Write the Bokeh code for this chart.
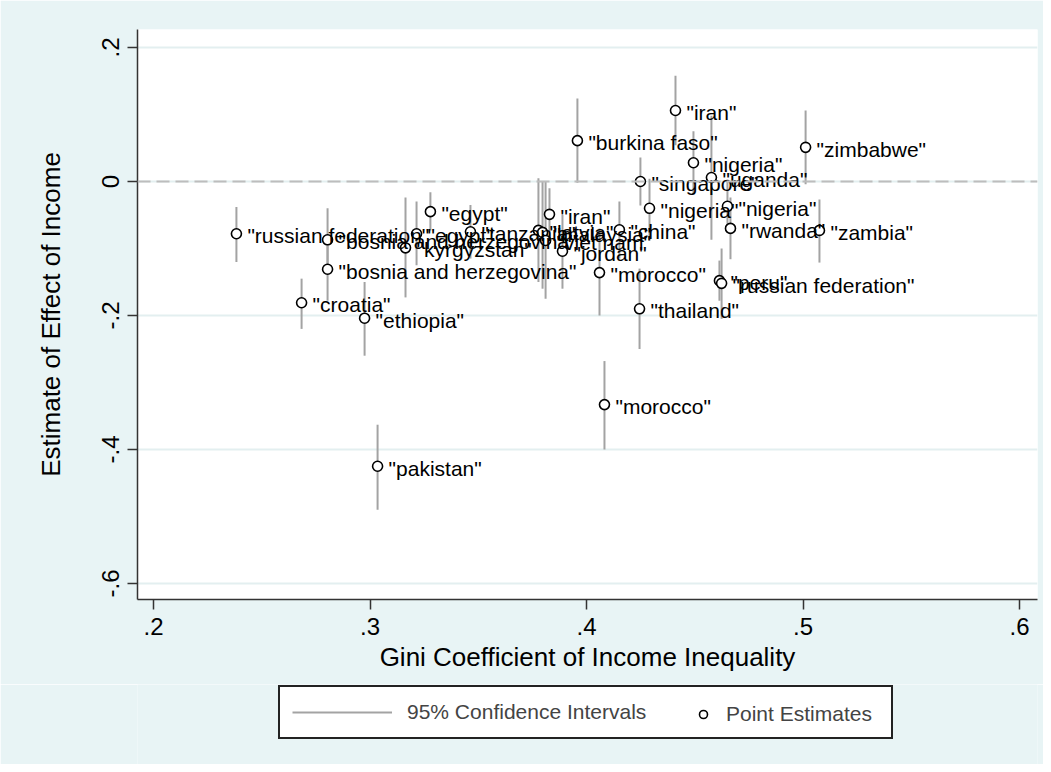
from bokeh.plotting import figure
from bokeh.layouts import column
from bokeh.models import ColumnDataSource, FixedTicker, Span, Legend, LegendItem, Range1d
from bokeh.embed import file_html
from bokeh.resources import INLINE
from bokeh.core.properties import value

# ---- data ----
countries = ["iran", "burkina faso", "zimbabwe", "nigeria", "uganda", "singapore",
             "nigeria", "nigeria", "rwanda", "zambia", "peru", "russian federation",
             "thailand", "morocco", "morocco", "pakistan", "ethiopia", "croatia",
             "bosnia and herzegovina", "russian federation", "bosnia and herzegovina",
             "egypt", "egypt", "kyrgyzstan", "tanzania", "latvia", "malaysia",
             "viet nam", "jordan", "china", "iran"]
gini = [0.4411, 0.3958, 0.5012, 0.4494, 0.4577, 0.4249,
        0.4291, 0.4651, 0.4665, 0.5076, 0.4614, 0.4624,
        0.4245, 0.4060, 0.4083, 0.3035, 0.2975, 0.2684,
        0.2804, 0.2383, 0.2804,
        0.3279, 0.3215, 0.3164, 0.3464, 0.3778, 0.3797,
        0.3811, 0.3889, 0.4152, 0.3829]
estimate = [0.106, 0.061, 0.051, 0.028, 0.006, 0.000,
            -0.040, -0.037, -0.070, -0.073, -0.148, -0.152,
            -0.190, -0.136, -0.333, -0.425, -0.204, -0.181,
            -0.131, -0.078, -0.087,
            -0.045, -0.078, -0.099, -0.075, -0.073, -0.076,
            -0.088, -0.104, -0.072, -0.049]
ci_low = [0.054, -0.002, -0.004, -0.019, -0.087, -0.036,
          -0.088, -0.077, -0.116, -0.121, -0.178, -0.205,
          -0.250, -0.200, -0.400, -0.490, -0.260, -0.220,
          -0.178, -0.120, -0.130,
          -0.073, -0.125, -0.173, -0.115, -0.150, -0.160,
          -0.175, -0.160, -0.115, -0.090]
ci_high = [0.158, 0.124, 0.106, 0.075, 0.098, 0.036,
           0.004, 0.003, -0.024, -0.027, -0.118, -0.100,
           -0.130, -0.070, -0.268, -0.363, -0.150, -0.145,
           -0.084, -0.038, -0.040,
           -0.016, -0.030, -0.024, -0.035, 0.005, 0.000,
           0.000, -0.050, -0.030, -0.010]

x_ticks = [0.2, 0.3, 0.4, 0.5, 0.6]
x_tick_labels = [".2", ".3", ".4", ".5", ".6"]
y_ticks = [-0.6, -0.4, -0.2, 0.0, 0.2]
y_tick_labels = ["-.6", "-.4", "-.2", "0", ".2"]

x_title = "Gini Coefficient of Income Inequality"
y_title = "Estimate of Effect of Income"
legend_ci = "95% Confidence Intervals"
legend_pt = "Point Estimates"

FONT = "Liberation Sans"
BG = "#e8f4f5"
CI_COLOR = "#a3a3a3"

source = ColumnDataSource(dict(
    gini=gini, est=estimate, lo=ci_low, hi=ci_high,
    label=['"%s"' % c for c in countries],
))

p = figure(width=1043, height=684,
           x_range=Range1d(0.19261, 0.60831), y_range=Range1d(-0.62388, 0.22687),
           min_border_left=137, min_border_right=6, min_border_top=29, min_border_bottom=85,
           border_fill_color=BG, background_fill_color="white",
           outline_line_color=None, output_backend="svg", toolbar_location=None)

# axes
p.xaxis.ticker = FixedTicker(ticks=x_ticks)
p.yaxis.ticker = FixedTicker(ticks=y_ticks)
p.xaxis.major_label_overrides = {t: l for t, l in zip(x_ticks, x_tick_labels)}
p.yaxis.major_label_overrides = {t: l for t, l in zip(y_ticks, y_tick_labels)}
p.yaxis.major_label_orientation = "vertical"
for ax in (p.xaxis, p.yaxis):
    ax.axis_line_color = "#333333"
    ax.axis_line_width = 1.5
    ax.major_tick_line_color = "#333333"
    ax.major_tick_line_width = 1.5
    ax.major_tick_out = 10
    ax.major_tick_in = 0
    ax.minor_tick_out = 0
    ax.minor_tick_in = 0
    ax.major_label_text_font = FONT
    ax.major_label_text_font_size = "24px"
    ax.major_label_text_color = "black"
    ax.axis_label_text_font = FONT
    ax.axis_label_text_font_size = "26px"
    ax.axis_label_text_font_style = "normal"
    ax.axis_label_text_color = "black"
    ax.major_label_standoff = 8
p.xaxis.axis_label = x_title
p.yaxis.axis_label = y_title
p.xaxis.axis_label_standoff = 4
p.yaxis.axis_label_standoff = 34

p.xgrid.grid_line_color = None
p.ygrid.ticker = FixedTicker(ticks=y_ticks)
p.ygrid.grid_line_color = "#e3eff0"
p.ygrid.grid_line_width = 2

p.add_layout(Span(location=0, dimension="width", line_color="#bdbdbd",
                  line_dash="13 6", line_width=2))

p.segment(x0="gini", y0="lo", x1="gini", y1="hi", source=source,
          line_color=CI_COLOR, line_width=2)
p.scatter(x="gini", y="est", source=source, marker="circle", size=10,
          line_color="black", line_width=1.6, fill_color="white")
p.text(x="gini", y="est", text="label", source=source, x_offset=11, y_offset=2,
       text_baseline="middle", text_align="left", text_font=value(FONT),
       text_font_size="21px", text_color="black")

# ---- legend strip (separate figure below so the legend is not clipped) ----
# its ranges lie far from the data, so the glyphs themselves are off-view;
# they only serve as legend swatches
q = figure(width=1043, height=80, x_range=Range1d(10, 11), y_range=Range1d(10, 11),
           x_axis_type=None, y_axis_type=None,
           min_border_left=137, min_border_right=6, min_border_top=0, min_border_bottom=0,
           border_fill_color=BG, background_fill_color=BG,
           outline_line_color=None, output_backend="svg", toolbar_location=None)
q.grid.visible = False
seg_sw = q.segment(x0="gini", y0="lo", x1="gini", y1="hi", source=source,
                   line_color=CI_COLOR, line_width=2)
pt_sw = q.scatter(x="gini", y="est", source=source, marker="circle", size=10,
                  line_color="black", line_width=1.6, fill_color="white")

leg_a = Legend(items=[LegendItem(label=legend_ci, renderers=[seg_sw])],
               location=(141, 25), orientation="horizontal",
               glyph_width=100, glyph_height=26, label_height=26, label_width=472,
               label_standoff=15, padding=12, margin=0, spacing=0,
               border_line_color="#222222", border_line_width=2, border_line_alpha=1.0,
               background_fill_color="white", background_fill_alpha=1.0,
               label_text_font=FONT, label_text_font_size="21px")
leg_b = Legend(items=[LegendItem(label=legend_pt, renderers=[pt_sw])],
               location=(556, 37), orientation="horizontal",
               glyph_width=20, glyph_height=26, label_height=26,
               label_standoff=13, padding=0, margin=0, spacing=0,
               border_line_color=None, background_fill_alpha=0.0,
               label_text_font=FONT, label_text_font_size="21px")
q.add_layout(leg_a)
q.add_layout(leg_b)

layout = column(p, q, spacing=0)
open("out.html", "w").write(file_html(layout, INLINE))
